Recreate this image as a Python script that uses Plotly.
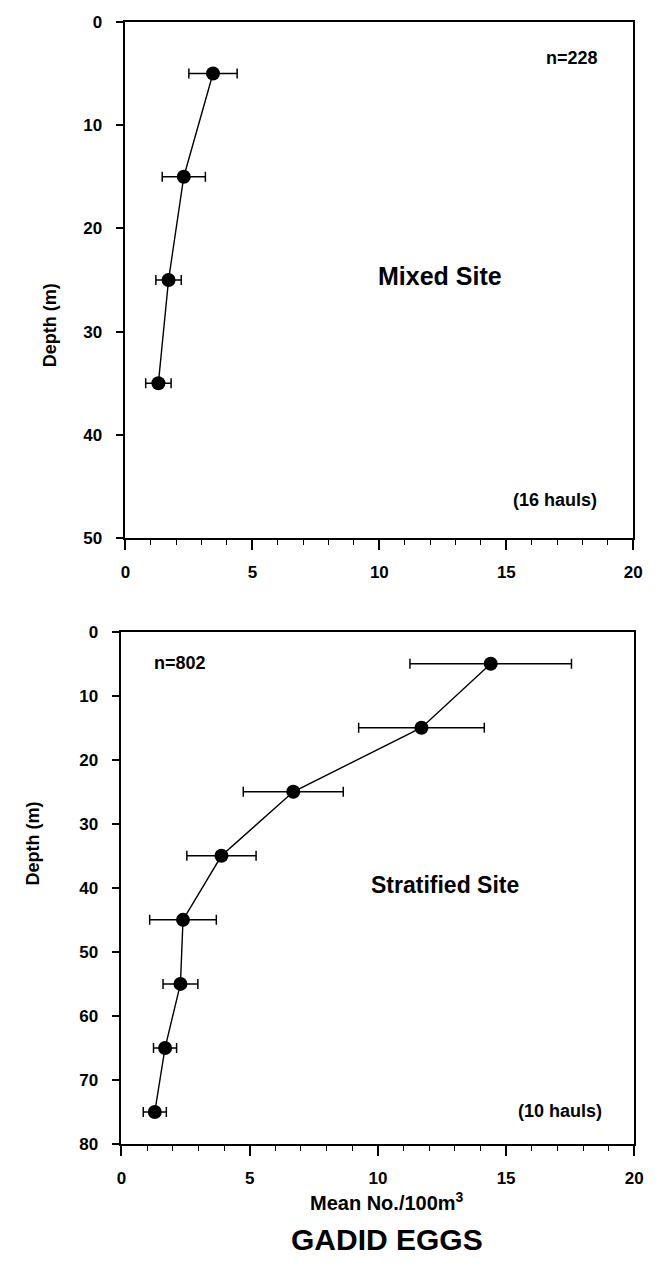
import plotly.graph_objects as go

# ---- data ----
mixed_depth = [5, 15, 25, 35]
mixed_mean = [3.45, 2.3, 1.7, 1.3]
mixed_err = [0.95, 0.85, 0.5, 0.5]

strat_depth = [5, 15, 25, 35, 45, 55, 65, 75]
strat_mean = [14.4, 11.7, 6.7, 3.9, 2.4, 2.3, 1.7, 1.3]
strat_err = [3.15, 2.45, 1.95, 1.35, 1.3, 0.68, 0.45, 0.45]

x_ticks = [0, 5, 10, 15, 20]
W, H = 657, 1287
FONT = "Arial, Liberation Sans, Helvetica, sans-serif"


def px(x):
    return x / W


def py(y):
    return 1 - y / H


fig = go.Figure()

for xs, ys, errs, xa, ya in [
    (mixed_mean, mixed_depth, mixed_err, "x", "y"),
    (strat_mean, strat_depth, strat_err, "x2", "y2"),
]:
    fig.add_trace(go.Scatter(
        x=xs, y=ys, mode="lines+markers",
        xaxis=xa, yaxis=ya,
        line=dict(color="black", width=1.4),
        marker=dict(color="black", size=14, symbol="circle"),
        error_x=dict(type="data", array=errs, visible=True,
                     color="black", thickness=1.5, width=5),
        showlegend=False, hoverinfo="skip",
    ))

xcommon = dict(
    range=[0, 20], tickvals=x_ticks, ticks="outside", ticklen=10, tickwidth=1.5,
    tickcolor="black", showline=True, linecolor="black", linewidth=1.6,
    mirror=True, showgrid=False, zeroline=False,
    tickfont=dict(family=FONT, size=17, color="black", weight="bold"),
    ticklabelstandoff=8,
    minor=dict(dtick=1, ticks="outside", ticklen=5, tickwidth=1.2,
               tickcolor="black", showgrid=False),
)
ycommon = dict(
    dtick=10, ticks="outside", ticklen=8, tickwidth=1.5, tickcolor="black",
    showline=True, linecolor="black", linewidth=1.6, mirror=True,
    showgrid=False, zeroline=False,
    tickfont=dict(family=FONT, size=17, color="black", weight="bold"),
    ticklabelstandoff=10,
)

fig.update_layout(
    width=W, height=H,
    margin=dict(l=0, r=0, t=0, b=0),
    paper_bgcolor="white", plot_bgcolor="white",
    xaxis=dict(domain=[px(123), px(642)], anchor="y", **xcommon),
    yaxis=dict(domain=[py(537), py(13)], range=[50, 0], anchor="x", **ycommon),
    xaxis2=dict(domain=[px(119), px(643)], anchor="y2", **xcommon),
    yaxis2=dict(domain=[py(1152), py(632)], range=[80, 0], anchor="x2", **ycommon),
)

ann = []
# in-plot texts
ann.append(dict(x=12.4, y=24.6, xref="x", yref="y", text="<b>Mixed Site</b>",
                showarrow=False, font=dict(family=FONT, size=25, color="black")))
ann.append(dict(x=17.6, y=3.5, xref="x", yref="y", text="<b>n=228</b>",
                showarrow=False, font=dict(family=FONT, size=18, color="black")))
ann.append(dict(x=16.9, y=46.3, xref="x", yref="y", text="<b>(16 hauls)</b>",
                showarrow=False, font=dict(family=FONT, size=18, color="black")))
ann.append(dict(x=12.6, y=39.5, xref="x2", yref="y2", text="<b>Stratified Site</b>",
                showarrow=False, font=dict(family=FONT, size=23, color="black")))
ann.append(dict(x=2.3, y=4.9, xref="x2", yref="y2", text="<b>n=802</b>",
                showarrow=False, font=dict(family=FONT, size=18, color="black")))
ann.append(dict(x=17.1, y=74.8, xref="x2", yref="y2", text="<b>(10 hauls)</b>",
                showarrow=False, font=dict(family=FONT, size=18, color="black")))
# axis titles
ann.append(dict(x=px(34), y=py(276), xref="paper", yref="paper", text="<b>Depth (m)</b>",
                textangle=-90, showarrow=False,
                font=dict(family=FONT, size=18, color="black")))
ann.append(dict(x=px(16), y=py(892), xref="paper", yref="paper", text="<b>Depth (m)</b>",
                textangle=-90, showarrow=False,
                font=dict(family=FONT, size=18, color="black")))
ann.append(dict(x=px(390), y=py(1225), xref="paper", yref="paper",
                text="<b>Mean No./100m<sup>3</sup></b>", showarrow=False,
                font=dict(family=FONT, size=20, color="black")))
ann.append(dict(x=px(390), y=py(1268), xref="paper", yref="paper",
                text="<b>GADID EGGS</b>", showarrow=False,
                font=dict(family=FONT, size=30, color="black")))
fig.update_layout(annotations=ann)

fig.write_html("out.html")
